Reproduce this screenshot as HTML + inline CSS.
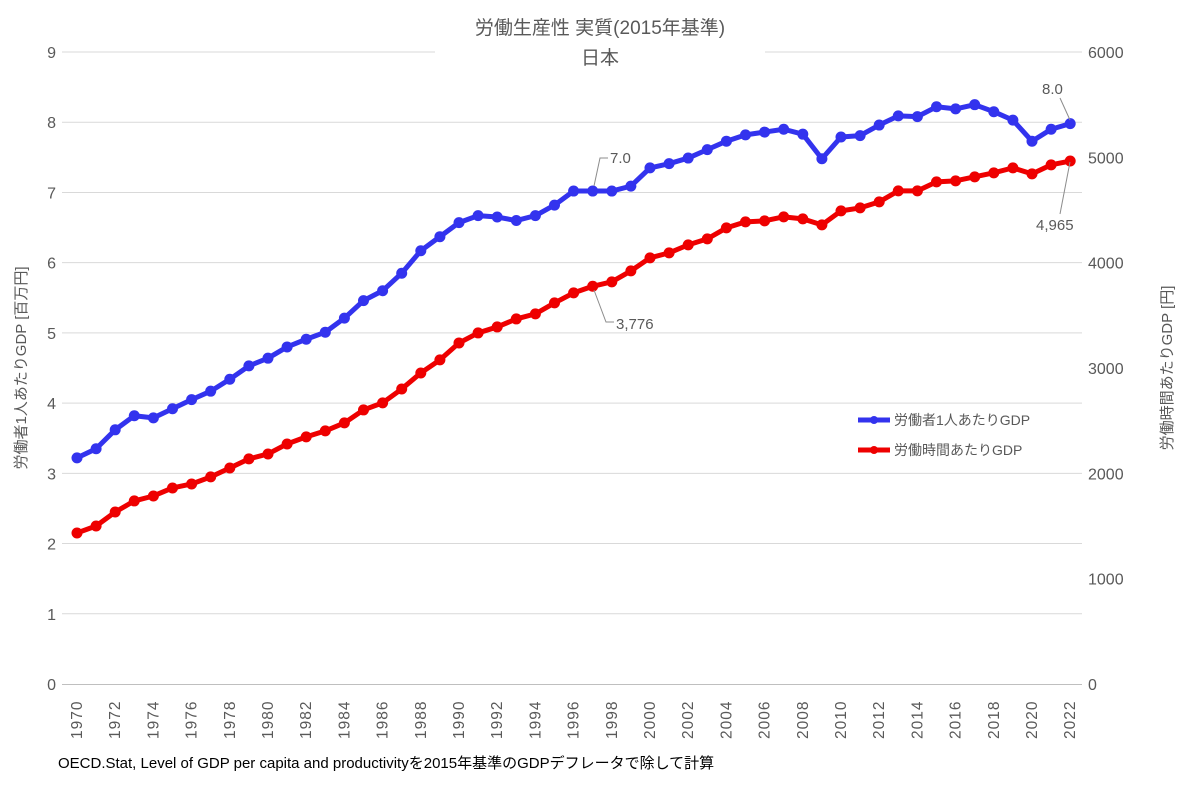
<!DOCTYPE html>
<html><head><meta charset="utf-8"><style>
html,body{margin:0;padding:0;background:#fff;}
svg text{font-family:"Liberation Sans","Noto Sans CJK JP",sans-serif;fill:#595959;}
</style></head><body>
<svg width="1200" height="783" viewBox="0 0 1200 783" xmlns="http://www.w3.org/2000/svg">
<rect width="1200" height="783" fill="#fff"/>
<g id="grid" stroke="#d9d9d9" stroke-width="1"></g>
<line x1="62" y1="684.5" x2="1082" y2="684.5" stroke="#bfbfbf"/>
<rect x="435" y="14" width="330" height="60" fill="#fff"/>
<text x="600" y="34" font-size="19" text-anchor="middle">労働生産性 実質(2015年基準)</text>
<text x="600" y="64" font-size="19" text-anchor="middle">日本</text>
<g id="ly" font-size="16" text-anchor="end"></g>
<g id="ry" font-size="16" text-anchor="start"></g>
<g id="xl" font-size="15.5" letter-spacing="1"></g>
<text transform="translate(26,368) rotate(-90)" font-size="15" text-anchor="middle">労働者1人あたりGDP [百万円]</text>
<text transform="translate(1172,368) rotate(-90)" font-size="15" text-anchor="middle">労働時間あたりGDP [円]</text>
<g id="series"></g>
<line x1="858" y1="420" x2="890" y2="420" stroke="#3333ee" stroke-width="5"/><circle cx="874" cy="420" r="4" fill="#3333ee"/>
<text x="894" y="425" font-size="14">労働者1人あたりGDP</text>
<line x1="858" y1="450" x2="890" y2="450" stroke="#ee0000" stroke-width="5"/><circle cx="874" cy="450" r="4" fill="#ee0000"/>
<text x="894" y="455" font-size="14">労働時間あたりGDP</text>
<polyline points="594,186 600,158 608,158" fill="none" stroke="#8c8c8c"/>
<text x="610" y="163" font-size="15">7.0</text>
<polyline points="594,290 606,322 614,322" fill="none" stroke="#8c8c8c"/>
<text x="616" y="329" font-size="15">3,776</text>
<line x1="1070" y1="120" x2="1060" y2="98" stroke="#8c8c8c"/>
<text x="1042" y="94" font-size="15">8.0</text>
<line x1="1070" y1="162" x2="1060" y2="214" stroke="#8c8c8c"/>
<text x="1036" y="230" font-size="15">4,965</text>
<text x="58" y="768" font-size="15" style="fill:#000">OECD.Stat, Level of GDP per capita and productivityを2015年基準のGDPデフレータで除して計算</text>
</svg>
<script>
const NS="http://www.w3.org/2000/svg";
function el(t,a,p,txt){const e=document.createElementNS(NS,t);for(const k in a)e.setAttribute(k,a[k]);if(txt!==undefined)e.textContent=txt;document.getElementById(p).appendChild(e);return e;}
const y0=684,ppu=70.22;
for(let i=1;i<=9;i++){const y=y0-i*ppu;el('line',{x1:62,x2:1082,y1:y,y2:y},'grid');}
for(let i=0;i<=9;i++){el('text',{x:56,y:y0-i*ppu+6},'ly',String(i));}
for(let i=0;i<=6;i++){el('text',{x:1088,y:y0-i*1000*ppu*9/6000+6},'ry',String(i*1000));}
const X=yr=>77+(yr-1970)*19.1;
for(let yr=1970;yr<=2022;yr+=2){el('text',{transform:`translate(${X(yr)+5},${739}) rotate(-90)`},'xl',String(yr));}
const b=[3.22,3.35,3.62,3.82,3.79,3.92,4.05,4.17,4.34,4.53,4.64,4.80,4.91,5.01,5.21,5.46,5.60,5.85,6.17,6.37,6.57,6.67,6.65,6.60,6.67,6.82,7.02,7.02,7.02,7.09,7.35,7.41,7.49,7.61,7.73,7.82,7.86,7.90,7.83,7.48,7.79,7.81,7.96,8.09,8.08,8.22,8.19,8.25,8.15,8.03,7.73,7.90,7.98];
const r=[1434,1500,1633,1738,1785,1861,1899,1966,2051,2137,2184,2279,2346,2403,2479,2602,2669,2801,2953,3077,3238,3333,3390,3466,3514,3618,3713,3776,3818,3922,4046,4093,4169,4226,4330,4387,4397,4435,4416,4359,4492,4520,4577,4682,4682,4767,4777,4815,4853,4900,4843,4929,4965];
function draw(vals,f,c){const pts=vals.map((v,i)=>[X(1970+i),f(v)]);
el('polyline',{points:pts.map(p=>p.join(',')).join(' '),fill:'none',stroke:c,'stroke-width':5,'stroke-linejoin':'round'},'series');
pts.forEach(p=>el('circle',{cx:p[0],cy:p[1],r:5.5,fill:c},'series'));}
draw(b,v=>y0-v*ppu,'#3333ee');
draw(r,v=>y0-v*ppu*9/6000,'#ee0000');
</script>
</body></html>
